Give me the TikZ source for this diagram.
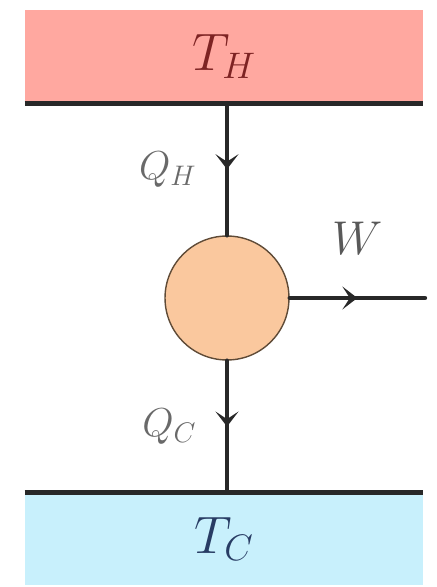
\documentclass[tikz,border=0pt]{standalone}
\usepackage{fix-cm}
\usetikzlibrary{decorations.markings, arrows.meta}
\definecolor{hotpink}{RGB}{255,168,160}
\definecolor{coldblue}{RGB}{200,240,252}
\definecolor{engineorange}{RGB}{250,200,158}
\definecolor{enginerim}{RGB}{95,75,55}
\definecolor{linegray}{RGB}{40,40,40}
\definecolor{labelgray}{RGB}{105,105,105}
\definecolor{hotred}{RGB}{125,35,35}
\definecolor{coldnavy}{RGB}{40,60,100}
\tikzset{
  reservoir/.style={minimum width=7.96cm, minimum height=1.85cm, inner sep=0pt},
  flow/.style={line width=2.5pt, draw=linegray, postaction={decorate},
    decoration={markings, mark=at position 0.5 with {\arrow{Stealth[length=0.3cm, width=0.46cm, inset=0.15cm]}}}},
  flowlabel/.style={text=labelgray, font=\fontsize{23}{27}\selectfont},
}
\begin{document}
\begin{tikzpicture}[x=0.02cm, y=-0.02cm, line join=round, line cap=round]
\useasboundingbox (0,0) rectangle (436,587);

% Reservoirs
\node[reservoir, fill=hotpink, text=hotred, font=\fontsize{30}{36}\selectfont] (hot) at (224,56.5) {$T_H$};
\node[reservoir, fill=coldblue, text=coldnavy, font=\fontsize{30}{36}\selectfont] (cold) at (224,539) {$T_C$};
\draw[line width=2.8pt, linegray, line cap=butt] (hot.south west) -- (hot.south east);
\draw[line width=2.8pt, linegray, line cap=butt] (cold.north west) -- (cold.north east);

% Engine
\node[circle, fill=engineorange, draw=enginerim, line width=0.8pt, minimum size=2.48cm, inner sep=0pt] (engine) at (227,298) {};
\coordinate (wend) at (425,298);

% Heat and work
\draw[flow] (engine |- hot.south) -- (engine.north) node[midway, left=0.45cm, flowlabel] {$Q_H$};
\draw[flow] (engine.south) -- (engine |- cold.north) node[midway, left=0.45cm, flowlabel] {$Q_C$};
\draw[flow] (engine.east) -- (wend) node[midway, above=0.7cm, text=labelgray!85!black, font=\fontsize{27}{32}\selectfont] {$W$};
\end{tikzpicture}
\end{document}
